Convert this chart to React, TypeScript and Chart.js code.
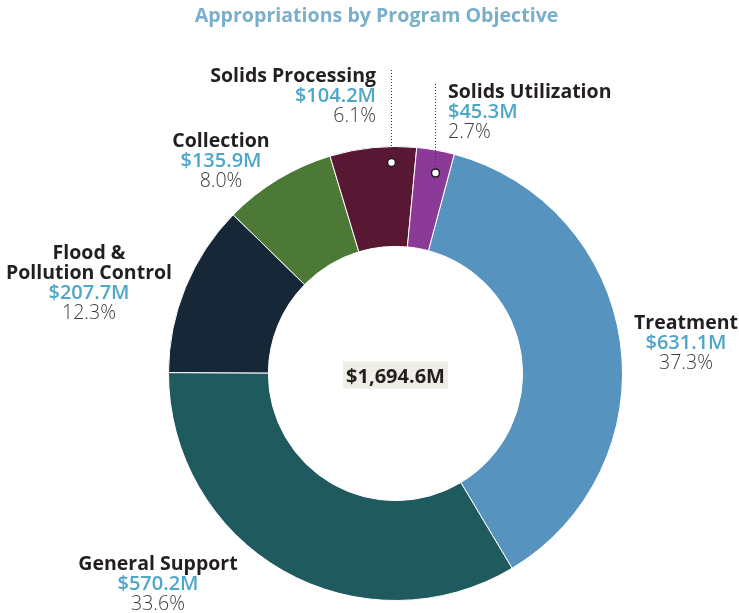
import React, { useEffect, useRef } from "react";
import { Chart, registerables } from "chart.js";

Chart.register(...registerables);

const title = "Appropriations by Program Objective";
const categories = [
  "Treatment",
  "General Support",
  "Flood & Pollution Control",
  "Collection",
  "Solids Processing",
  "Solids Utilization",
];
const nameLines = [
  ["Treatment"],
  ["General Support"],
  ["Flood &", "Pollution Control"],
  ["Collection"],
  ["Solids Processing"],
  ["Solids Utilization"],
];
const values = [631.1, 570.2, 207.7, 135.9, 104.2, 45.3];
const valueLabels = ["$631.1M", "$570.2M", "$207.7M", "$135.9M", "$104.2M", "$45.3M"];
const percentLabels = ["37.3%", "33.6%", "12.3%", "8.0%", "6.1%", "2.7%"];
const totalLabel = "$1,694.6M";
const colors = ["#5793bf", "#1f5b5e", "#162737", "#4c7a36", "#581732", "#8c3a97"];

// label layout: [x, first baseline, align]
const labelLayout: [number, number, CanvasTextAlign][] = [
  [686, 329, "center"],
  [158, 570, "center"],
  [89, 259, "center"],
  [221, 147, "center"],
  [376, 82, "right"],
  [448, 98, "left"],
];
// leader lines: index, fraction along arc, radius fraction, top y
const leaders: [number, number, number, number][] = [
  [4, 0.7, 0.93, 70],
  [5, 0.59, 0.9, 84],
];

const FONT = '"Open Sans", "Noto Sans", sans-serif';
const LINE = 20;

const labelPlugin = {
  id: "customLabels",
  afterDraw(chart: any) {
    const ctx = chart.ctx as CanvasRenderingContext2D;
    const meta = chart.getDatasetMeta(0);
    ctx.save();
    // title
    ctx.font = `bold 19.6px ${FONT}`;
    ctx.fillStyle = "#7aafcb";
    ctx.textAlign = "center";
    ctx.textBaseline = "alphabetic";
    ctx.fillText(title, 376.5, 22);

    // slice labels
    labelLayout.forEach(([x, y0, align], i) => {
      ctx.textAlign = align;
      let y = y0;
      ctx.font = `bold 19.5px ${FONT}`;
      ctx.fillStyle = "#231f20";
      nameLines[i].forEach((ln) => {
        ctx.fillText(ln, x, y);
        y += LINE;
      });
      ctx.font = `600 20px ${FONT}`;
      ctx.fillStyle = "#4ea6c9";
      ctx.fillText(valueLabels[i], x, y);
      y += LINE;
      ctx.font = `300 19.5px ${FONT}`;
      ctx.fillStyle = "#3d3d3d";
      ctx.fillText(percentLabels[i], x, y);
    });

    // leader lines
    leaders.forEach(([idx, frac, rf, topY]) => {
      const arc = meta.data[idx] as any;
      const a = arc.startAngle + (arc.endAngle - arc.startAngle) * frac;
      const r = arc.outerRadius * rf;
      const px = Math.round(arc.x + r * Math.cos(a)) + 0.5;
      const py = arc.y + r * Math.sin(a);
      ctx.strokeStyle = "#333333";
      ctx.lineWidth = 1;
      ctx.setLineDash([1, 2]);
      ctx.beginPath();
      ctx.moveTo(px, topY);
      ctx.lineTo(px, py);
      ctx.stroke();
      ctx.setLineDash([]);
      ctx.beginPath();
      ctx.arc(px, py, 4, 0, Math.PI * 2);
      ctx.fillStyle = "#ffffff";
      ctx.fill();
      ctx.lineWidth = 1.6;
      ctx.strokeStyle = "#231f20";
      ctx.stroke();
    });

    // center total
    const arc0 = meta.data[0] as any;
    const cx = arc0.x;
    const cy = arc0.y;
    ctx.font = `bold 20px ${FONT}`;
    const w = ctx.measureText(totalLabel).width;
    ctx.fillStyle = "#efeee6";
    ctx.fillRect(cx - w / 2 - 3, cy - 12, w + 6, 27);
    ctx.fillStyle = "#231f20";
    ctx.textAlign = "center";
    ctx.fillText(totalLabel, cx, cy + 9);
    ctx.restore();
  },
};

export default function App() {
  const ref = useRef<HTMLCanvasElement | null>(null);
  useEffect(() => {
    document.body.style.margin = "0";
    const canvas = ref.current!;
    const chart = new Chart(canvas, {
      type: "doughnut",
      data: {
        labels: categories,
        datasets: [
          {
            data: values,
            backgroundColor: colors,
            borderColor: "#ffffff",
            borderWidth: 1,
          },
        ],
      },
      options: {
        responsive: false,
        animation: false,
        devicePixelRatio: 1,
        rotation: 15,
        cutout: "56%",
        layout: { padding: { left: 168, top: 146, right: 116, bottom: 12 } },
        plugins: {
          legend: { display: false },
          tooltip: { enabled: false },
          title: { display: false },
        },
      },
      plugins: [labelPlugin],
    });
    const fonts = [
      `bold 18px "Open Sans"`,
      `600 18px "Open Sans"`,
      `300 18px "Open Sans"`,
    ];
    Promise.all(fonts.map((f) => (document as any).fonts.load(f)))
      .then(() => chart.update())
      .catch(() => {});
    return () => chart.destroy();
  }, []);
  return (
    <div style={{ position: "absolute", left: 0, top: 0, width: 739, height: 613, background: "#fff" }}>
      <canvas ref={ref} width={739} height={613} style={{ display: "block" }} />
    </div>
  );
}
